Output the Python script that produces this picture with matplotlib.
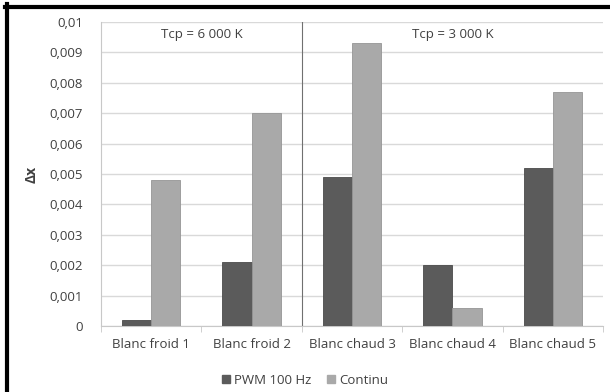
import matplotlib
matplotlib.use("Agg")
import matplotlib.pyplot as plt
from matplotlib.patches import Patch
from matplotlib.lines import Line2D
import numpy as np

categories = ["Blanc froid 1", "Blanc froid 2", "Blanc chaud 3", "Blanc chaud 4", "Blanc chaud 5"]
pwm = [0.0002, 0.0021, 0.0049, 0.0020, 0.0052]
continu = [0.0048, 0.0070, 0.0093, 0.0006, 0.0077]
series_names = ["PWM 100 Hz", "Continu"]
yticks = [0, 0.001, 0.002, 0.003, 0.004, 0.005, 0.006, 0.007, 0.008, 0.009, 0.01]
ytick_labels = ["0", "0,001", "0,002", "0,003", "0,004", "0,005", "0,006", "0,007", "0,008", "0,009", "0,01"]
zone_labels = ["Tcp = 6 000 K", "Tcp = 3 000 K"]

plt.rcParams['font.family'] = ['Open Sans', 'DejaVu Sans']
txt = '#404040'

fig = plt.figure(figsize=(6.1, 3.92), dpi=100)
ax = fig.add_axes([101/610, 1-326/392, (603-101)/610, (326-22)/392])

x = np.arange(len(categories))
w = 0.29
ax.bar(x - w/2, pwm, w, color='#5b5b5b', edgecolor='#4a4a4a', linewidth=0.6, zorder=3)
ax.bar(x + w/2, continu, w, color='#a9a9a9', edgecolor='#959595', linewidth=0.6, zorder=3)

ax.set_xlim(-0.5, len(categories) - 0.5)
ax.set_ylim(0, 0.01)
ax.set_yticks(yticks)
ax.set_yticklabels(ytick_labels, fontsize=9.5, color=txt)
ax.set_xticks(x)
ax.set_xticklabels(categories, fontsize=9.5, color=txt)
ax.tick_params(axis='y', length=0, pad=13)
ax.tick_params(axis='x', length=0, pad=9)
# category boundary ticks
ax.set_xticks(np.arange(-0.5, len(categories), 1), minor=True)
ax.tick_params(axis='x', which='minor', length=4, color='#c8c8c8', direction='out')

ax.grid(axis='y', color='#d9d9d9', linewidth=1.0, zorder=0)
for s in ['top', 'right']:
    ax.spines[s].set_visible(False)
ax.spines['left'].set_color('#c8c8c8')
ax.spines['bottom'].set_color('#c8c8c8')

ax.axvline(1.5, color='#707070', linewidth=0.8, zorder=2)

ax.text(0.5, 0.0096, zone_labels[0], ha='center', va='center', fontsize=9.5, color=txt)
ax.text(3.0, 0.0096, zone_labels[1], ha='center', va='center', fontsize=9.5, color=txt)

ax.set_ylabel("Δx", fontsize=10, fontweight='bold', color=txt, labelpad=8)

handles = [Patch(facecolor='#5b5b5b', edgecolor='#5b5b5b'), Patch(facecolor='#a9a9a9', edgecolor='#a9a9a9')]
fig.legend(handles, series_names, loc='center', bbox_to_anchor=(305/610, 1-380/392), ncol=2,
           frameon=False, fontsize=9.5, handlelength=0.6, handleheight=0.6, handletextpad=0.3,
           columnspacing=1.2, labelcolor=txt)

# black border (left and top)
fig.add_artist(Line2D([7/610, 7/610], [0, 1-4/392], transform=fig.transFigure, color='black', linewidth=3))
fig.add_artist(Line2D([5/610, 1], [1-6.5/392, 1-6.5/392], transform=fig.transFigure, color='black', linewidth=3))

fig.savefig("out.png", dpi=100)
